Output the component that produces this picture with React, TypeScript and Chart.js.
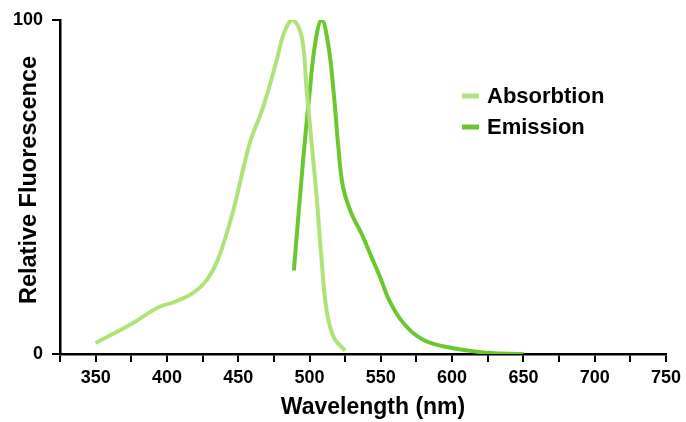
import React, { useEffect, useRef } from "react";
import { Chart, registerables } from "chart.js";

Chart.register(...registerables);

const absWavelengths = [350, 375, 395, 405, 418, 428, 436, 446.5, 458, 467.5, 477, 482, 488, 494.5, 498, 501.5, 505, 508.5, 512, 517, 525];
const absValues = [3.3, 9, 14.2, 15.5, 18.2, 22.2, 28.6, 43, 63, 74, 88, 96, 100, 95, 79, 63, 47, 28, 13, 5, 1];

const emWavelengths = [489, 495.5, 500, 504, 508.5, 513, 517, 520, 523.5, 529.5, 536.5, 543.5, 549.5, 556, 566, 580, 601, 624, 650];
const emValues = [25, 58, 78, 93, 100, 93, 78, 63, 50, 42, 36, 29, 23, 16, 9.2, 4.2, 1.7, 0.4, 0];

const seriesLabels = ["Absorbtion", "Emission"];
const seriesColors = ["#B0E27A", "#6CC72E"];

const xTitle = "Wavelength (nm)";
const yTitle = "Relative Fluorescence";
const xMin = 325;
const xMax = 750;
const yMin = 0;
const yMax = 100;

const FONT = "'Liberation Sans', Arial, Helvetica, sans-serif";

const legendPlugin = {
  id: "customLegend",
  afterDraw(chart: any) {
    const ctx = chart.ctx;
    ctx.save();
    const x0 = 462;
    const rows = [96, 127];
    chart.data.datasets.forEach((ds: any, i: number) => {
      const y = rows[i];
      ctx.strokeStyle = ds.borderColor;
      ctx.lineWidth = 5;
      ctx.lineCap = "butt";
      ctx.beginPath();
      ctx.moveTo(x0, y);
      ctx.lineTo(x0 + 17, y);
      ctx.stroke();
      ctx.fillStyle = "#000";
      ctx.font = `bold 22px ${FONT}`;
      ctx.textBaseline = "middle";
      ctx.textAlign = "left";
      ctx.fillText(ds.label, x0 + 25, y + 1);
    });
    // axis titles
    ctx.fillStyle = "#000";
    ctx.textAlign = "center";
    ctx.textBaseline = "middle";
    ctx.font = `bold 23px ${FONT}`;
    ctx.fillText(xTitle, 373, 408);
    ctx.translate(30, 180);
    ctx.rotate(-Math.PI / 2);
    ctx.font = `bold 23.5px ${FONT}`;
    ctx.fillText(yTitle, 0, 0);
    ctx.restore();
  },
};

export default function App() {
  const ref = useRef<HTMLCanvasElement>(null);
  useEffect(() => {
    if (!ref.current) return;
    const chart = new Chart(ref.current, {
      type: "line",
      data: {
        datasets: [
          {
            label: seriesLabels[0],
            data: absWavelengths.map((x, i) => ({ x, y: absValues[i] })),
            borderColor: seriesColors[0],
            backgroundColor: seriesColors[0],
            borderWidth: 4,
            pointRadius: 0,
            tension: 0.4,
            borderCapStyle: "butt",
          },
          {
            label: seriesLabels[1],
            data: emWavelengths.map((x, i) => ({ x, y: emValues[i] })),
            borderColor: seriesColors[1],
            backgroundColor: seriesColors[1],
            borderWidth: 4,
            pointRadius: 0,
            tension: 0.4,
            borderCapStyle: "butt",
          },
        ],
      },
      options: {
        responsive: false,
        animation: false,
        layout: { padding: { top: 20, right: 18, left: 0, bottom: 0 } },
        plugins: { legend: { display: false }, tooltip: { enabled: false } },
        scales: {
          x: {
            type: "linear",
            min: xMin,
            max: xMax,
            afterFit: (s: any) => {
              s.height = 68;
            },
            border: { display: true, color: "#000", width: 2.5 },
            grid: { drawOnChartArea: false, drawTicks: true, tickLength: 8, tickColor: "#000", lineWidth: 2 },
            ticks: {
              stepSize: 25,
              autoSkip: false,
              maxRotation: 0,
              padding: 5,
              color: "#000",
              font: { family: FONT, size: 18, weight: "bold" },
              callback: (v: any) => (Number(v) % 50 === 0 ? String(v) : ""),
            },
            title: { display: false },
          },
          y: {
            min: yMin,
            max: yMax,
            afterFit: (s: any) => {
              s.width = 60;
            },
            border: { display: true, color: "#000", width: 2.5 },
            grid: { drawOnChartArea: false, drawTicks: true, tickLength: 8, tickColor: "#000", lineWidth: 2 },
            ticks: {
              stepSize: 100,
              padding: 9,
              color: "#000",
              font: { family: FONT, size: 18, weight: "bold" },
            },
            title: { display: false },
          },
        },
      },
      plugins: [legendPlugin],
    } as any);
    return () => chart.destroy();
  }, []);
  return (
    <div style={{ position: "absolute", left: 0, top: 0, width: 686, height: 422, background: "#fff" }}>
      <canvas ref={ref} width={686} height={422} style={{ display: "block" }} />
    </div>
  );
}
